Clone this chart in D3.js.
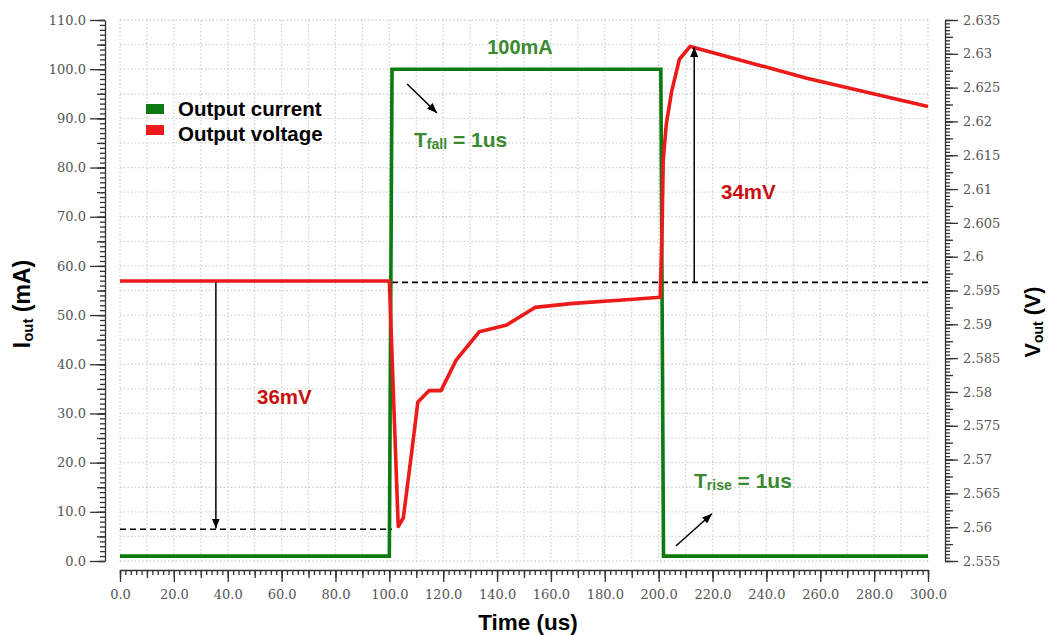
<!DOCTYPE html>
<html>
<head>
<meta charset="utf-8">
<script src="https://cdn.jsdelivr.net/npm/d3@7"></script>
<style>
    body { margin: 0; background: #fff; }
    .tick text { font-family: 'DejaVu Serif', serif; font-size: 13px; fill: #555; }
    .axis path, .axis line { stroke: #333; stroke-width: 1.3; }
    .grid line { stroke: #d2d2d2; stroke-width: 1.3; stroke-dasharray: 1.5,2.2; }
    .bold { font-family: 'Liberation Sans', Arial, sans-serif; font-weight: bold; }
</style>
</head>
<body>
<svg id="chart" width="1051" height="635"></svg>
<script>
// current step (left axis, mA)
const currentTime = [0, 100, 101, 200.8, 201.8, 300];
const currentValue = [1, 1, 100, 100, 1, 1];

// output voltage (right axis, V)
const voltageTime = [0, 100, 103.3, 105.2, 108.3, 110.6, 114.8, 119.2, 124.8, 133.4, 143.6, 154.1, 168.3, 190.6, 200.6,
    201.3, 201.7, 202.8, 204.8, 207.7, 211.7, 213.4, 255, 300];
const voltageValue = [2.5964, 2.5964, 2.5601, 2.5614, 2.5711, 2.5785, 2.5802, 2.5802, 2.5847, 2.5889, 2.5899, 2.5925, 2.5931, 2.5937, 2.5940,
    2.6050, 2.6143, 2.6195, 2.6244, 2.6292, 2.6311, 2.6309, 2.6264, 2.6222];

const timeTicks = [0, 20, 40, 60, 80, 100, 120, 140, 160, 180, 200, 220, 240, 260, 280, 300];
const currentTicks = [0, 10, 20, 30, 40, 50, 60, 70, 80, 90, 100, 110];
const voltageTicks = [2.555, 2.56, 2.565, 2.57, 2.575, 2.58, 2.585, 2.59, 2.595, 2.6, 2.605, 2.61, 2.615, 2.62, 2.625, 2.63, 2.635];

const legendItems = ['Output current', 'Output voltage'];
const seriesColors = ['#0c7a10', '#ec1a1a'];

const svg = d3.select('#chart');

const x = d3.scaleLinear().domain([0, 300]).range([120, 928]);
const yI = d3.scaleLinear().domain([0, 110]).range([561, 20]);
const yV = d3.scaleLinear().domain([2.555, 2.635]).range([561, 20]);

const defs = svg.append('defs');
defs.append('marker')
    .attr('id', 'arrow')
    .attr('markerUnits', 'userSpaceOnUse')
    .attr('markerWidth', 10).attr('markerHeight', 8)
    .attr('refX', 10).attr('refY', 4)
    .attr('orient', 'auto')
    .append('path').attr('d', 'M0,0 L10,4 L0,8 Z').attr('fill', '#000');

// grid
const grid = svg.append('g').attr('class', 'grid');
grid.selectAll('line.v')
    .data(d3.range(0, 301, 10))
    .enter().append('line')
    .attr('x1', d => x(d)).attr('x2', d => x(d))
    .attr('y1', yI(110)).attr('y2', yI(0));
grid.selectAll('line.h')
    .data(d3.range(0, 111, 5))
    .enter().append('line')
    .attr('x1', x(0)).attr('x2', x(300))
    .attr('y1', d => yI(d)).attr('y2', d => yI(d));

function layeredAxis(g, axisFn, scale, minor, medium, major, sizes, fmt, pad) {
    g.append('g').call(axisFn(scale).tickValues(minor).tickSize(sizes[0]).tickFormat('').tickSizeOuter(0))
        .call(s => s.select('.domain').remove());
    g.append('g').call(axisFn(scale).tickValues(medium).tickSize(sizes[1]).tickFormat('').tickSizeOuter(0))
        .call(s => s.select('.domain').remove());
    g.append('g').call(axisFn(scale).tickValues(major).tickSize(sizes[2]).tickFormat(fmt).tickPadding(pad).tickSizeOuter(0));
}

// x axis
const xAxis = svg.append('g').attr('class', 'axis').attr('transform', 'translate(0,570)');
layeredAxis(xAxis, d3.axisBottom, x, d3.range(0, 301, 2), d3.range(0, 301, 10), timeTicks,
    [5, 8, 12], d3.format('.1f'), 8);

// left axis
const lAxis = svg.append('g').attr('class', 'axis').attr('transform', 'translate(105,0)');
layeredAxis(lAxis, d3.axisLeft, yI, d3.range(0, 111, 1), d3.range(0, 111, 5), currentTicks,
    [5, 8, 15], d3.format('.1f'), 4);

// right axis
const rAxis = svg.append('g').attr('class', 'axis').attr('transform', 'translate(945,0)');
layeredAxis(rAxis, d3.axisRight, yV, d3.range(0, 161).map(i => 2.555 + i * 0.0005),
    d3.range(0, 33).map(i => 2.555 + i * 0.0025), voltageTicks,
    [5, 8, 13], d => String(+d.toFixed(3)), 5);

// dashed reference lines
const refLow = 2.5597, refHigh = 2.5962;
svg.append('line')
    .attr('x1', x(0)).attr('x2', x(101))
    .attr('y1', yV(refLow)).attr('y2', yV(refLow))
    .attr('stroke', '#000').attr('stroke-width', 1.6).attr('stroke-dasharray', '6,4');
svg.append('line')
    .attr('x1', x(101)).attr('x2', x(300))
    .attr('y1', yV(refHigh)).attr('y2', yV(refHigh))
    .attr('stroke', '#000').attr('stroke-width', 1.6).attr('stroke-dasharray', '6,4');

// series
const currentData = currentTime.map((t, i) => [t, currentValue[i]]);
const voltageData = voltageTime.map((t, i) => [t, voltageValue[i]]);

svg.append('path')
    .datum(currentData)
    .attr('fill', 'none').attr('stroke', seriesColors[0]).attr('stroke-width', 3.6)
    .attr('stroke-linejoin', 'miter')
    .attr('d', d3.line().x(d => x(d[0])).y(d => yI(d[1])));

svg.append('path')
    .datum(voltageData)
    .attr('fill', 'none').attr('stroke', seriesColors[1]).attr('stroke-width', 3.6)
    .attr('stroke-linejoin', 'round')
    .attr('d', d3.line().x(d => x(d[0])).y(d => yV(d[1])));

// arrows
function arrow(x1, y1, x2, y2) {
    svg.append('line')
        .attr('x1', x1).attr('y1', y1).attr('x2', x2).attr('y2', y2)
        .attr('stroke', '#000').attr('stroke-width', 1.5)
        .attr('marker-end', 'url(#arrow)');
}
arrow(x(35.6), yV(refHigh), x(35.6), yV(2.5598));
arrow(x(213.2), yV(refHigh), x(213.2), yV(2.6310));
arrow(x(106.6), yI(97.0), x(117.7), yI(91.1));
arrow(x(206.4), yI(3.05), x(219.8), yI(9.6));

// annotations
const green = '#3b8a30', red = '#c81010';
svg.append('text').attr('class', 'bold').attr('x', 520).attr('y', 54)
    .attr('text-anchor', 'middle').attr('fill', green).attr('font-size', 20).text('100mA');

function timeLabel(xp, yp, sub) {
    const t = svg.append('text').attr('class', 'bold').attr('x', xp).attr('y', yp)
        .attr('fill', green).attr('font-size', 21);
    t.append('tspan').text('T');
    t.append('tspan').attr('font-size', 14).attr('dy', 2).text(sub);
    t.append('tspan').attr('dy', -2).text(' = 1us');
}
timeLabel(414, 147, 'fall');
timeLabel(694, 488, 'rise');

svg.append('text').attr('class', 'bold').attr('x', 257).attr('y', 404)
    .attr('fill', red).attr('font-size', 20.5).text('36mV');
svg.append('text').attr('class', 'bold').attr('x', 721).attr('y', 199)
    .attr('fill', red).attr('font-size', 20.5).text('34mV');

// legend
const legend = svg.append('g').attr('transform', 'translate(146,104)');
legendItems.forEach((name, i) => {
    legend.append('rect')
        .attr('x', 0).attr('y', i * 21).attr('width', 18).attr('height', 10)
        .attr('fill', seriesColors[i]);
    legend.append('text').attr('class', 'bold')
        .attr('x', 32).attr('y', i * 25 + 11.5)
        .attr('font-size', 20.5).attr('fill', '#000').text(name);
});

// axis titles
svg.append('text').attr('class', 'bold').attr('x', 528).attr('y', 630)
    .attr('text-anchor', 'middle').attr('font-size', 22.5).attr('fill', '#000').text('Time (us)');

const lt = svg.append('text').attr('class', 'bold')
    .attr('transform', 'translate(30,304) rotate(-90)')
    .attr('text-anchor', 'middle').attr('font-size', 23).attr('fill', '#000');
lt.append('tspan').text('I');
lt.append('tspan').attr('font-size', 15).attr('dy', 3).text('out');
lt.append('tspan').attr('dy', -3).text(' (mA)');

const rt = svg.append('text').attr('class', 'bold')
    .attr('transform', 'translate(1040,322) rotate(-90)')
    .attr('text-anchor', 'middle').attr('font-size', 21.5).attr('fill', '#000');
rt.append('tspan').text('V');
rt.append('tspan').attr('font-size', 14).attr('dy', 3).text('out');
rt.append('tspan').attr('dy', -3).text(' (V)');
</script>
</body>
</html>
